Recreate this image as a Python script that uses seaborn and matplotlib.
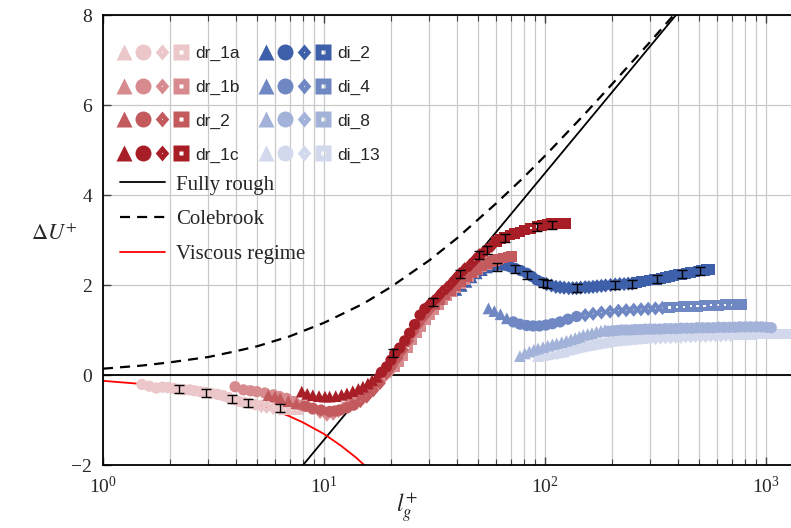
import numpy as np
import pandas as pd
import matplotlib
matplotlib.use("Agg")
import matplotlib.pyplot as plt
import seaborn as sns
from matplotlib.path import Path
from matplotlib.lines import Line2D
from matplotlib.legend_handler import HandlerTuple
from matplotlib.ticker import LogLocator, NullFormatter

sns.set_theme(style="ticks")
plt.rcParams["font.family"] = ["Liberation Serif", "DejaVu Serif"]
plt.rcParams["mathtext.fontset"] = "stix"

# ---- data (l_g^+, Delta U^+) ----
dr_1a_x = [1.50, 1.62, 1.74, 1.86, 1.97, 2.10, 2.21, 2.34, 2.47, 2.60, 2.75, 2.93, 3.10, 3.30,
           3.50, 3.70, 3.90, 4.10, 4.35, 4.60, 4.90, 5.20, 5.50, 5.90, 6.30, 6.70, 7.10, 7.60]
dr_1a_y = [-0.21, -0.25, -0.29, -0.27, -0.28, -0.30, -0.32, -0.33, -0.33, -0.35, -0.37, -0.39, -0.41, -0.43,
           -0.46, -0.50, -0.55, -0.58, -0.61, -0.63, -0.66, -0.69, -0.71, -0.73, -0.75, -0.76, -0.77, -0.78]

dr_1b_x = [3.96, 4.32, 4.65, 4.96, 5.4, 5.9, 6.3, 6.78, 7.3, 7.8, 8.35, 8.9, 9.6, 10.3, 11.0,
           11.6, 12.2, 12.9, 13.6, 14.3, 15.0, 15.7, 16.5, 17.3, 18.1, 19.0, 19.9, 20.8, 21.8, 22.8,
           23.9, 25.0, 26.2, 27.4, 28.7, 30.0, 31.4, 32.9, 34.4, 36.0, 37.7, 39.5, 41.3, 43.2, 45.2,
           47.3, 49.5, 51.8, 54.2, 56.7, 59.3, 62.0]
dr_1b_y = [-0.26, -0.33, -0.35, -0.37, -0.40, -0.44, -0.48, -0.52, -0.59, -0.67, -0.70, -0.76, -0.82, -0.88, -0.86,
           -0.80, -0.74, -0.65, -0.57, -0.50, -0.44, -0.36, -0.28, -0.20, -0.10, 0.0, 0.08, 0.18, 0.30, 0.44,
           0.60, 0.78, 0.94, 1.08, 1.22, 1.34, 1.46, 1.57, 1.67, 1.76, 1.85, 1.94, 2.03, 2.11, 2.19,
           2.27, 2.34, 2.40, 2.46, 2.51, 2.55, 2.58]

dr_2_x = [5.6, 6.0, 6.33, 6.9, 7.5, 8.2, 8.9, 9.7, 10.6, 11.2, 11.8, 12.7, 13.6, 14.6, 15.6,
          16.7, 17.9, 19.2, 20.3, 21.5, 22.7, 24.0, 25.4, 26.8, 28.3, 29.9, 31.6, 33.4, 35.3, 37.3,
          39.4, 41.6, 44.0, 46.5, 49.1, 51.9, 54.8, 57.9, 61.2, 64.6, 68.3, 70.5]
dr_2_y = [-0.45, -0.48, -0.52, -0.58, -0.63, -0.69, -0.74, -0.78, -0.81, -0.80, -0.78, -0.73, -0.67, -0.58, -0.48,
          -0.34, -0.18, 0.04, 0.20, 0.38, 0.56, 0.76, 0.96, 1.14, 1.30, 1.44, 1.56, 1.67, 1.78, 1.88,
          1.98, 2.08, 2.18, 2.27, 2.35, 2.42, 2.48, 2.53, 2.57, 2.60, 2.62, 2.63]

dr_1c_x = [7.93, 8.4, 8.9, 9.5, 10.1, 10.6, 11.3, 12.0, 12.7, 13.5, 14.3, 15.0, 15.8, 16.5, 17.3,
           18.2, 19.2, 20.1, 20.9, 22.0, 23.2, 24.4, 25.7, 27.2, 28.6, 30.0, 31.2, 32.8, 34.3, 35.9,
           37.6, 39.3, 41.1, 43.3, 45.7, 48.0, 50.4, 52.5, 54.6, 57.5, 60.5, 63.0, 65.8, 69.5, 73.0,
           77.0, 81.0, 86.0, 91.9, 97.0, 102, 107.4, 113, 118, 123.7]
dr_1c_y = [-0.37, -0.42, -0.45, -0.47, -0.48, -0.48, -0.47, -0.44, -0.41, -0.36, -0.31, -0.26, -0.19, -0.12, -0.04,
           0.06, 0.18, 0.33, 0.48, 0.60, 0.76, 0.93, 1.12, 1.33, 1.47, 1.57, 1.63, 1.74, 1.85, 1.93,
           2.03, 2.14, 2.24, 2.35, 2.44, 2.55, 2.66, 2.72, 2.78, 2.87, 2.96, 3.02, 3.06, 3.11, 3.15,
           3.18, 3.22, 3.26, 3.30, 3.32, 3.34, 3.36, 3.36, 3.36, 3.36]

di_2_x = [39.7, 42.0, 44.1, 46.5, 49.1, 51.8, 54.6, 57.5, 60.5, 63.7, 67.1, 70.0, 73.1, 77.8, 82.7,
          87.2, 91.9, 96.8, 101.7, 107, 112, 117, 122, 128, 133.5, 139, 145, 152, 158, 165, 172,
          180, 188, 198, 208, 218, 228, 238, 248, 260, 272, 285, 298, 311, 320, 335, 350, 366, 383,
          400, 416, 435, 455, 475, 495, 510, 525, 540, 555]
di_2_y = [1.89, 1.98, 2.07, 2.17, 2.26, 2.33, 2.39, 2.42, 2.44, 2.44, 2.43, 2.40, 2.37, 2.32, 2.26,
          2.19, 2.11, 2.06, 2.02, 1.99, 1.96, 1.95, 1.94, 1.93, 1.93, 1.93, 1.94, 1.95, 1.95, 1.96, 1.97,
          1.98, 1.99, 2.00, 2.01, 2.02, 2.02, 2.03, 2.03, 2.05, 2.07, 2.09, 2.11, 2.12, 2.13, 2.15, 2.17, 2.19, 2.21,
          2.23, 2.24, 2.26, 2.28, 2.29, 2.31, 2.32, 2.33, 2.34, 2.35]

di_4_x = [55.5, 59.0, 62.9, 67.2, 71.9, 77.0, 82.7, 88.3, 94.4, 101, 108, 117, 127, 139, 152,
          165, 180, 197, 215, 233, 252, 272, 293, 316, 340, 366, 394, 424, 456, 490,
          527, 566, 608, 654, 703, 745, 778]
di_4_y = [1.48, 1.42, 1.35, 1.26, 1.18, 1.13, 1.10, 1.09, 1.09, 1.11, 1.14, 1.18, 1.24, 1.30, 1.33,
          1.36, 1.39, 1.41, 1.43, 1.44, 1.45, 1.46, 1.47, 1.48, 1.49, 1.50, 1.51, 1.52, 1.53, 1.53,
          1.54, 1.55, 1.55, 1.56, 1.56, 1.57, 1.57]

di_8_x = [77, 81, 85, 89, 93, 98, 103, 108, 113, 119, 125, 131, 137, 143, 149, 156, 163, 171, 179, 187,
          193, 202, 212, 222, 233, 245, 257, 270, 284, 298, 313, 331, 350, 370, 391, 413, 437, 462,
          488, 516, 546, 577, 610, 645, 682, 721, 762, 806, 852, 901, 952, 1005, 1056]
di_8_y = [0.42, 0.48, 0.52, 0.56, 0.59, 0.62, 0.65, 0.68, 0.70, 0.73, 0.76, 0.79, 0.82, 0.85, 0.89, 0.91,
          0.93, 0.96, 0.98, 1.00,
          0.97, 0.98, 0.99, 1.00, 1.00, 1.00, 1.01, 1.01, 1.02, 1.02, 1.02, 1.02, 1.03, 1.03, 1.03, 1.04, 1.04,
          1.04, 1.05, 1.05, 1.05, 1.05, 1.06, 1.06, 1.06, 1.06, 1.07, 1.07, 1.07, 1.07, 1.07, 1.06, 1.05]

di_13_x = [93, 98, 103, 109, 115, 121, 127, 133, 139, 146, 153, 161, 169, 178, 188, 198, 208, 219, 231, 243,
           256, 270, 284, 300, 316, 333, 351, 370, 390, 411, 433, 456, 480, 506, 533, 562, 592, 624, 657, 692,
           729, 768, 809, 852, 898, 946, 997, 1050, 1106, 1165, 1227, 1270]
di_13_y = [0.42, 0.44, 0.46, 0.48, 0.50, 0.52, 0.54, 0.56, 0.58, 0.61, 0.63, 0.65, 0.67, 0.69, 0.71, 0.73,
           0.75, 0.76, 0.77, 0.78, 0.79, 0.80, 0.81, 0.82, 0.82, 0.83, 0.84, 0.84, 0.85, 0.85, 0.86, 0.86,
           0.87, 0.87, 0.87, 0.88, 0.88, 0.88, 0.89, 0.89, 0.89, 0.90, 0.90, 0.90, 0.91, 0.91, 0.91, 0.91,
           0.91, 0.91, 0.91, 0.91]

# where each case switches marker (triangle | circle | diamond | square)
breaks = {
    "dr_1a": [1.0, 5.0, 6.5], "dr_1b": [1.0, 9.0, 20.0], "dr_2": [8.0, 14.0, 30.0],
    "dr_1c": [17.5, 30.0, 60.0], "di_2": [55.0, 100.0, 250.0], "di_4": [70.0, 150.0, 350.0],
    "di_8": [190.0, 1e4, 1e4], "di_13": [125.0, 300.0, 700.0],
}

# error bars
err_x = [2.21, 2.93, 3.82, 4.55, 6.33, 20.6, 31.2, 41.1, 50.4, 54.6, 66.0, 91.9, 107.4,
         60.4, 73.0, 82.7, 98.2, 101.7, 139, 208, 248, 320, 416, 504]
err_y = [-0.32, -0.39, -0.54, -0.63, -0.74, 0.48, 1.62, 2.25, 2.67, 2.77, 3.05, 3.29, 3.34,
         2.41, 2.35, 2.22, 2.04, 2.02, 1.93, 2.01, 2.03, 2.13, 2.24, 2.32]
err_e = [0.09] * len(err_x)

# reference curves
rough_x = [7.5, 420]
rough_y = [-2.18, 8.18]
cole_x = [1, 1.5, 2, 3, 4, 5, 7, 10, 15, 20, 30, 40, 60, 80, 100, 150, 200, 300, 400, 450]
cole_y = [0.14, 0.21, 0.28, 0.40, 0.53, 0.64, 0.86, 1.16, 1.58, 1.95, 2.55, 3.04, 3.81, 4.39,
          4.87, 5.78, 6.45, 7.41, 8.11, 8.40]
visc_x = [1, 1.5, 2, 3, 4, 5, 6, 7, 8, 10, 12, 14, 16]
visc_y = [-0.13, -0.20, -0.26, -0.39, -0.53, -0.66, -0.79, -0.92, -1.05, -1.31, -1.58, -1.84, -2.10]

colors = {
    "dr_1a": "#ebc7c9", "dr_1b": "#d88b8e", "dr_2": "#c35a5e", "dr_1c": "#a81e26",
    "di_2": "#3e5fa9", "di_4": "#6f88c3", "di_8": "#a3b2d9", "di_13": "#d3d9ec",
}

# ---- markers: square and diamond with a small hole ----
def holed(outer, inner):
    verts = outer + [outer[0]] + inner[::-1] + [inner[-1]]
    n = len(outer)
    codes = [Path.MOVETO] + [Path.LINETO] * (n - 1) + [Path.CLOSEPOLY]
    codes += [Path.MOVETO] + [Path.LINETO] * (n - 1) + [Path.CLOSEPOLY]
    return Path(verts, codes)

sq_hole = holed([(-1, -1), (1, -1), (1, 1), (-1, 1)],
                [(-0.3, -0.3), (0.3, -0.3), (0.3, 0.3), (-0.3, 0.3)])
sq_small_hole = holed([(-1, -1), (1, -1), (1, 1), (-1, 1)],
                      [(-0.2, -0.2), (0.2, -0.2), (0.2, 0.2), (-0.2, 0.2)])
dm_hole = holed([(0, -1), (0.85, 0), (0, 1), (-0.85, 0)],
                [(0, -0.1), (0.08, 0), (0, 0.1), (-0.08, 0)])
shape_mk = {"tri": "^", "circ": "o", "diam": dm_hole, "sq": sq_small_hole}
shape_sz = {"tri": 72, "circ": 66, "diam": 105, "sq": 60}
shape_names = np.array(["tri", "circ", "diam", "sq"])

series = [
    ("di_13", di_13_x, di_13_y), ("di_8", di_8_x, di_8_y), ("di_4", di_4_x, di_4_y),
    ("di_2", di_2_x, di_2_y), ("dr_1a", dr_1a_x, dr_1a_y), ("dr_1b", dr_1b_x, dr_1b_y),
    ("dr_2", dr_2_x, dr_2_y), ("dr_1c", dr_1c_x, dr_1c_y),
]
frames = []
for name, xs, ys in series:
    shp = shape_names[np.digitize(xs, breaks[name])]
    frames.append(pd.DataFrame({"lg": xs, "dU": ys, "case": name, "shape": shp}))
df = pd.concat(frames, ignore_index=True)

# ---- figure ----
fig = plt.figure(figsize=(7.91, 5.28), dpi=100)
ax = fig.add_axes([103 / 791, 63 / 528, 690 / 791, 450 / 528])
ax.set_xscale("log")
ax.set_xlim(1, 10 ** (690 / 221))
ax.set_ylim(-2, 8)

ax.xaxis.set_minor_locator(LogLocator(base=10, subs=np.arange(2, 10)))
ax.xaxis.set_minor_formatter(NullFormatter())
ax.set_yticks([-2, 0, 2, 4, 6, 8])
ax.grid(which="both", axis="x", color="#c9c9c9", lw=0.9)
ax.grid(which="major", axis="y", color="#c9c9c9", lw=0.9)
ax.set_axisbelow(True)
ax.axhline(0, color="black", lw=1.3, zorder=1.5)

sns.lineplot(x=rough_x, y=rough_y, color="black", lw=1.3, sort=False, estimator=None, ax=ax, zorder=2)
sns.lineplot(x=cole_x, y=cole_y, color="black", lw=1.6, sort=False, estimator=None, ax=ax, zorder=2,
             dashes=False).lines[-1].set_dashes([4.5, 3.2])
sns.lineplot(x=visc_x, y=visc_y, color="red", lw=1.3, sort=False, estimator=None, ax=ax, zorder=2)

sns.scatterplot(data=df, x="lg", y="dU", hue="case", style="shape", size="shape",
                palette=colors, markers=shape_mk, sizes=shape_sz, linewidth=0,
                legend=False, ax=ax, zorder=3)

ax.errorbar(err_x, err_y, yerr=err_e, fmt="none", ecolor="black", elinewidth=1.0,
            capsize=3.5, capthick=1.0, zorder=4)

for side in ["top", "left", "bottom"]:
    ax.spines[side].set_color("black")
    ax.spines[side].set_linewidth(1.3)
ax.spines["right"].set_visible(False)
ax.tick_params(which="both", direction="in", top=True, right=False, color="#444444", labelsize=14)
ax.tick_params(which="major", length=6, width=1)
ax.tick_params(which="minor", length=4, width=0.8)
ax.tick_params(axis="x", pad=8)
ax.tick_params(axis="y", pad=8)

ax.set_xlabel(r"$l_g^{+}$", fontsize=17)
ax.xaxis.set_label_coords((407 - 103) / 690, -0.06)
ax.set_ylabel(r"$\Delta U^{+}$", fontsize=16, rotation=0)
ax.yaxis.set_label_coords(-0.07, 0.49)

# ---- legends ----
legend_shapes = ["^", "o", dm_hole, sq_hole]
cases = ["dr_1a", "dr_1b", "dr_2", "dr_1c", "di_2", "di_4", "di_8", "di_13"]
handles = [tuple(Line2D([], [], ls="none", marker=m, color=colors[c], mec="none", ms=11.5)
                 for m in legend_shapes) for c in cases]
leg1 = ax.legend(handles, cases, ncol=2, handler_map={tuple: HandlerTuple(ndivide=None, pad=0.1)},
                 loc="upper left", bbox_to_anchor=(0.018, 0.932), frameon=False,
                 prop={"family": "Liberation Sans", "size": 12.5}, handlelength=4.3,
                 handletextpad=0.3, columnspacing=1.0, labelspacing=1.07,
                 borderpad=0, borderaxespad=0)
ax.add_artist(leg1)

line_handles = [Line2D([], [], color="black", lw=1.3),
                Line2D([], [], color="black", lw=1.6, dashes=[4.5, 3.2]),
                Line2D([], [], color="red", lw=1.3)]
ax.legend(line_handles, ["Fully rough", "Colebrook", "Viscous regime"], loc="upper left",
          bbox_to_anchor=(0.024, 0.644), frameon=False,
          prop={"family": "Liberation Serif", "size": 15}, handlelength=2.2,
          handletextpad=0.5, labelspacing=0.72, borderpad=0, borderaxespad=0)

fig.savefig("out.png", dpi=100)
